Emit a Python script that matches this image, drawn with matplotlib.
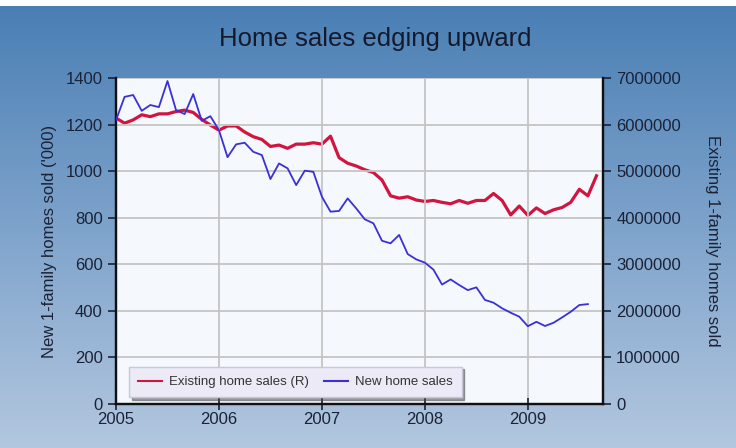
import numpy as np
import matplotlib
matplotlib.use('Agg')
import matplotlib.pyplot as plt
from matplotlib.colors import LinearSegmentedColormap

plt.rcParams['font.family'] = ['Liberation Sans', 'DejaVu Sans']

# monthly series starting Jan 2005
new_sales = [1219, 1319, 1327, 1259, 1284, 1275, 1387, 1262, 1245, 1331, 1216, 1236,
             1176, 1060, 1115, 1122, 1083, 1069, 966, 1033, 1012, 940, 1002, 997,
             890, 826, 829, 883, 840, 793, 776, 701, 690, 726, 644, 621,
             607, 577, 513, 535, 511, 489, 501, 447, 435, 411, 392, 375,
             334, 353, 335, 349, 372, 396, 425, 429]
existing_sales = [6140000, 6030000, 6100000, 6210000, 6170000, 6230000, 6230000, 6280000,
                  6310000, 6260000, 6110000, 5990000, 5880000, 5970000, 5970000, 5840000,
                  5740000, 5680000, 5530000, 5560000, 5490000, 5580000, 5580000, 5610000,
                  5580000, 5750000, 5290000, 5170000, 5110000, 5030000, 4970000, 4810000,
                  4470000, 4420000, 4450000, 4380000, 4350000, 4370000, 4330000, 4300000,
                  4370000, 4310000, 4370000, 4370000, 4520000, 4370000, 4060000, 4250000,
                  4050000, 4210000, 4090000, 4170000, 4220000, 4330000, 4610000, 4470000,
                  4900000]
years = [2005, 2006, 2007, 2008, 2009]
left_ticks = [0, 200, 400, 600, 800, 1000, 1200, 1400]
right_ticks = [0, 1000000, 2000000, 3000000, 4000000, 5000000, 6000000, 7000000]

x_new = 2005 + np.arange(len(new_sales)) / 12
x_ex = 2005 + np.arange(len(existing_sales)) / 12

red = '#d11540'
blue = '#3b2fd6'
ink = '#1b2236'

fig = plt.figure(figsize=(7.36, 4.48), dpi=100)

# background gradient
bg = fig.add_axes([0, 0, 1, 0.986], zorder=-10)
cmap = LinearSegmentedColormap.from_list('bg', ['#b3c7df', '#7ea3cb', '#4a7fb4'])
grad = np.linspace(0, 1, 256).reshape(-1, 1)
bg.imshow(grad, aspect='auto', cmap=cmap, origin='lower', extent=[0, 1, 0, 1])
bg.axis('off')

ax = fig.add_axes([0.1576, 0.0982, 0.6617, 0.7277])
ax.set_facecolor('#f5f8fd')
ax2 = ax.twinx()

ax.plot(x_new, new_sales, color=blue, lw=1.3, label='New home sales', zorder=3)
ax2.plot(x_ex, existing_sales, color=red, lw=2.3, label='Existing home sales (R)')

ax.set_xlim(2005, 2009.73)
ax.set_ylim(0, 1400)
ax2.set_ylim(0, 7000000)
ax.set_xticks(years)
ax.set_yticks(left_ticks)
ax2.set_yticks(right_ticks)
ax2.yaxis.set_major_formatter(matplotlib.ticker.FuncFormatter(lambda v, p: '%d' % v))

ax.grid(True, color='#c4c4c4', lw=1.3)
ax.set_axisbelow(True)

for a in (ax, ax2):
    a.spines['top'].set_visible(False)
    for s in ('left', 'right', 'bottom'):
        a.spines[s].set_linewidth(1.6)
        a.spines[s].set_color('#111111')
    a.tick_params(labelsize=12, colors=ink, width=1.2, length=6)
ax.tick_params(axis='x', direction='inout', length=8, pad=2)

ax.set_ylabel("New 1-family homes sold ('000)", fontsize=12, color=ink, labelpad=6)
ax2.set_ylabel('Existing 1-family homes sold', fontsize=12, color=ink,
               rotation=270, labelpad=28)

fig.text(0.51, 0.912, 'Home sales edging upward', ha='center', va='center',
         fontsize=18.5, color='#141a2c')

# legend: legend lines drawn thin, as in the key
h1, l1 = ax2.get_legend_handles_labels()
h2, l2 = ax.get_legend_handles_labels()
leg = ax.legend(h1 + h2, l1 + l2, loc='lower left', bbox_to_anchor=(0.013, 0.0),
                ncol=2, fontsize=9.5, frameon=True, fancybox=False, shadow=True,
                handlelength=1.8, handletextpad=0.5, columnspacing=1.2,
                borderpad=0.7)
leg.get_frame().set_facecolor('#eceaf6')
leg.get_frame().set_edgecolor('#c8c8d8')
for line in leg.get_lines():
    line.set_linewidth(1.5)
for t in leg.get_texts():
    t.set_color('#333333')
leg.set_zorder(10)
ax.set_zorder(ax2.get_zorder() + 1)
ax.patch.set_visible(False)
ax2.patch.set_visible(True)
ax2.patch.set_facecolor('#f5f8fd')

fig.savefig('out.png', dpi=100)
